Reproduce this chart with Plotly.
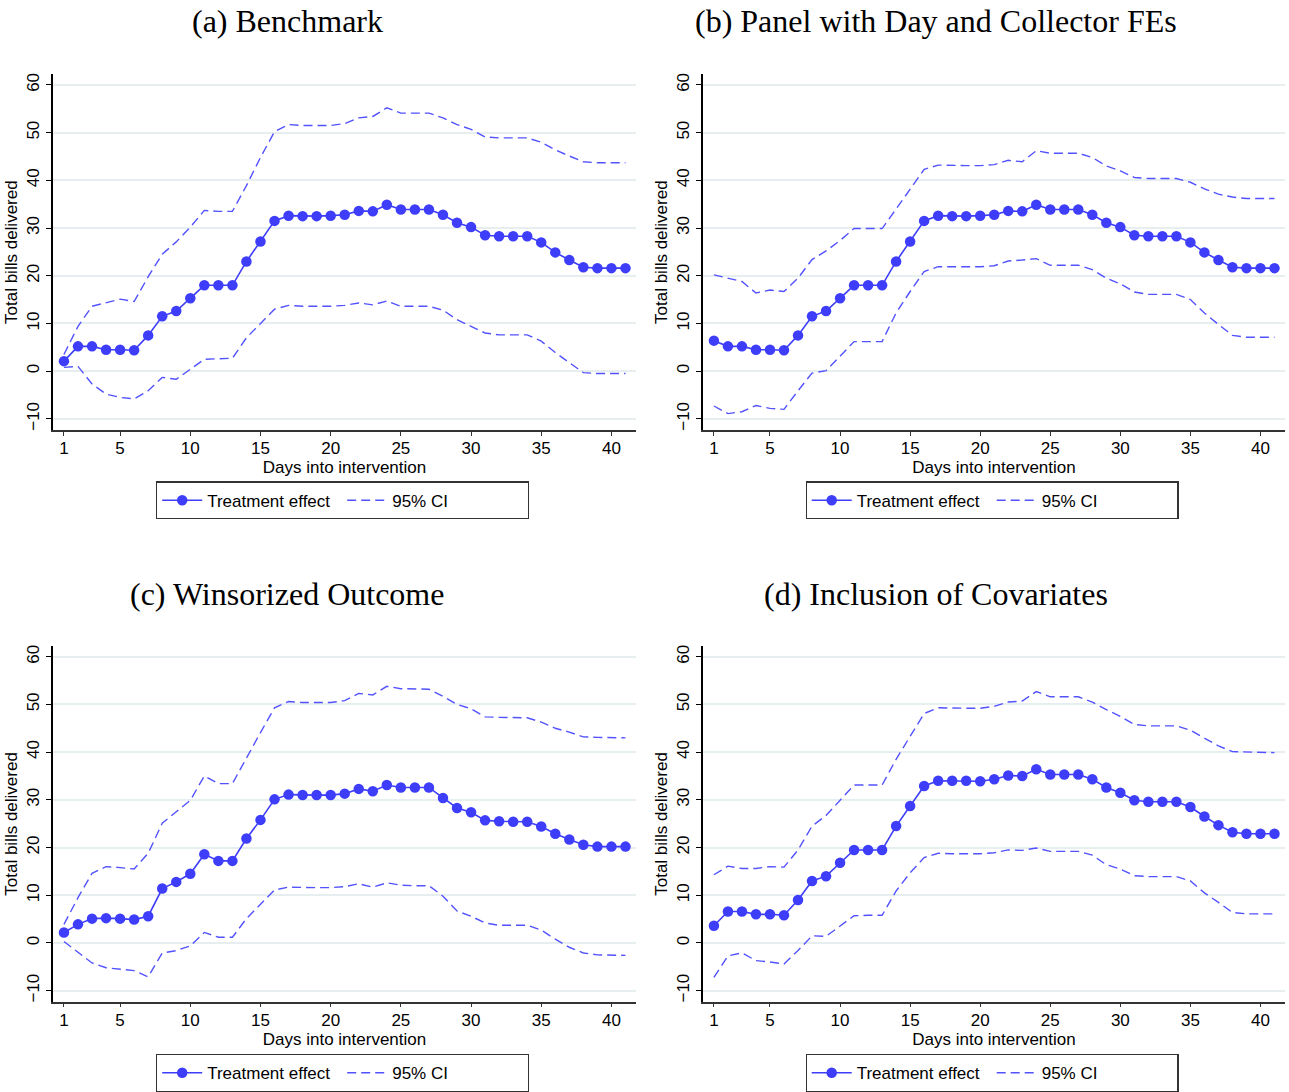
import plotly.graph_objects as go

days = list(range(1, 42))

# Panel (a) Benchmark
a_est = [2.1, 5.2, 5.2, 4.5, 4.5, 4.4, 7.5, 11.5, 12.6, 15.3, 18.0, 18.0, 18.0, 23.0, 27.2, 31.5, 32.6, 32.5, 32.5, 32.6,
         32.8, 33.6, 33.5, 34.9, 33.9, 33.9, 33.9, 32.8, 31.1, 30.2, 28.5, 28.3, 28.3, 28.3, 27.0, 24.9, 23.3, 21.8, 21.6, 21.6, 21.6]
a_hi = [3.5, 9.4, 13.6, 14.4, 15.1, 14.6, 19.8, 24.5, 27.1, 30.2, 33.7, 33.5, 33.5, 38.9, 44.8, 50.2, 51.7, 51.5, 51.5, 51.5,
        51.9, 53.1, 53.4, 55.2, 54.1, 54.1, 54.1, 53.1, 51.7, 50.7, 49.1, 48.9, 48.9, 48.9, 48.0, 46.4, 45.1, 43.9, 43.7, 43.7, 43.7]
a_lo = [0.8, 1.0, -2.7, -4.8, -5.5, -5.8, -4.1, -1.3, -1.7, 0.4, 2.5, 2.6, 2.7, 7.0, 10.1, 13.0, 13.8, 13.6, 13.6, 13.6,
        13.8, 14.3, 13.9, 14.7, 13.6, 13.6, 13.6, 12.8, 10.8, 9.4, 8.0, 7.6, 7.6, 7.6, 6.3, 3.9, 1.8, -0.3, -0.5, -0.5, -0.5]

# Panel (b) Panel with Day and Collector FEs
b_est = [6.4, 5.2, 5.2, 4.5, 4.5, 4.4, 7.5, 11.5, 12.6, 15.3, 18.0, 18.0, 18.0, 23.0, 27.2, 31.5, 32.6, 32.5, 32.5, 32.6,
         32.8, 33.6, 33.5, 34.9, 33.9, 33.9, 33.9, 32.8, 31.1, 30.2, 28.5, 28.3, 28.3, 28.3, 27.0, 24.9, 23.3, 21.8, 21.6, 21.6, 21.6]
b_hi = [20.2, 19.5, 18.8, 16.4, 17.0, 16.7, 19.5, 23.4, 25.2, 27.4, 29.9, 29.9, 29.9, 34.0, 38.2, 42.3, 43.2, 43.1, 43.1, 43.1,
        43.3, 44.2, 43.9, 46.2, 45.7, 45.7, 45.7, 44.8, 43.0, 42.0, 40.6, 40.4, 40.4, 40.4, 39.6, 38.2, 37.1, 36.5, 36.2, 36.2, 36.2]
b_lo = [-7.3, -8.9, -8.5, -7.2, -7.8, -8.0, -4.1, -0.4, 0.1, 3.2, 6.2, 6.2, 6.2, 12.2, 16.7, 20.9, 21.9, 21.9, 21.9, 21.9,
        22.1, 23.1, 23.3, 23.6, 22.2, 22.2, 22.2, 21.3, 19.5, 18.3, 16.6, 16.1, 16.1, 16.1, 15.0, 12.2, 9.8, 7.5, 7.1, 7.1, 7.1]

# Panel (c) Winsorized Outcome
c_est = [2.2, 3.9, 5.1, 5.2, 5.1, 4.9, 5.6, 11.4, 12.8, 14.5, 18.6, 17.2, 17.2, 21.9, 25.8, 30.1, 31.1, 31.0, 31.0, 31.0,
         31.3, 32.3, 31.8, 33.1, 32.6, 32.6, 32.6, 30.4, 28.3, 27.4, 25.7, 25.5, 25.4, 25.4, 24.4, 22.9, 21.7, 20.6, 20.2, 20.2, 20.2]
c_hi = [3.9, 9.5, 14.6, 16.0, 15.8, 15.5, 18.8, 25.1, 27.5, 29.9, 35.0, 33.4, 33.4, 38.9, 44.1, 49.3, 50.6, 50.4, 50.4, 50.4,
        50.8, 52.3, 52.0, 53.8, 53.3, 53.2, 53.2, 51.7, 50.0, 49.1, 47.4, 47.3, 47.2, 47.2, 46.3, 45.0, 44.2, 43.2, 43.1, 43.0, 43.0]
c_lo = [0.3, -1.9, -4.2, -5.2, -5.5, -5.8, -7.1, -2.1, -1.6, -0.6, 2.2, 1.2, 1.2, 5.1, 8.1, 11.1, 11.7, 11.6, 11.6, 11.6,
        11.8, 12.4, 11.7, 12.6, 12.1, 12.0, 12.0, 9.8, 6.7, 5.6, 4.2, 3.7, 3.7, 3.7, 2.7, 0.8, -0.9, -2.1, -2.5, -2.6, -2.6]

# Panel (d) Inclusion of Covariates
d_est = [3.6, 6.6, 6.6, 6.0, 6.0, 5.8, 9.0, 13.0, 14.0, 16.8, 19.5, 19.5, 19.5, 24.5, 28.7, 32.9, 34.0, 34.0, 34.0, 33.9,
         34.3, 35.1, 35.0, 36.4, 35.3, 35.3, 35.3, 34.3, 32.6, 31.5, 29.9, 29.6, 29.6, 29.6, 28.5, 26.5, 24.7, 23.2, 22.9, 22.9, 22.9]
d_hi = [14.3, 16.1, 15.6, 15.6, 16.0, 15.9, 19.5, 24.5, 26.7, 29.9, 33.1, 33.1, 33.1, 38.5, 43.4, 48.1, 49.3, 49.2, 49.2, 49.2,
        49.6, 50.5, 50.7, 52.7, 51.6, 51.6, 51.6, 50.5, 48.9, 47.5, 45.8, 45.5, 45.5, 45.5, 44.6, 42.9, 41.3, 40.1, 40.0, 39.9, 39.9]
d_lo = [-7.2, -2.7, -2.1, -3.7, -4.0, -4.4, -1.6, 1.5, 1.4, 3.6, 5.7, 5.8, 5.8, 10.9, 14.7, 17.9, 18.8, 18.7, 18.7, 18.7,
        18.9, 19.5, 19.4, 19.9, 19.2, 19.2, 19.2, 18.4, 16.4, 15.5, 14.1, 13.9, 13.9, 13.9, 13.0, 10.5, 8.5, 6.4, 6.1, 6.1, 6.1]

titles = ["(a) Benchmark", "(b) Panel with Day and Collector FEs",
          "(c) Winsorized Outcome", "(d) Inclusion of Covariates"]
panels = [(a_est, a_hi, a_lo), (b_est, b_hi, b_lo), (c_est, c_hi, c_lo), (d_est, d_hi, d_lo)]

x_ticks = [1, 5, 10, 15, 20, 25, 30, 35, 40]
y_ticks = [-10, 0, 10, 20, 30, 40, 50, 60]

W, H = 1289, 1092
BLUE = "#3d3dfa"
CI_BLUE = "#5252ff"

# pixel layout of plot areas (left, right, top, bottom)
boxes = [(53, 636, 73, 431), (703, 1285, 73, 431), (53, 636, 649, 1007), (703, 1285, 649, 1007)]
title_x = [287, 936, 287, 936]
title_y = [19, 19, 596, 596]
legend_top = [485, 485, 1062, 1062]

fig = go.Figure()
layout = dict(width=W, height=H, margin=dict(l=0, r=0, t=0, b=0),
              paper_bgcolor="white", plot_bgcolor="white",
              font=dict(family="Liberation Sans, Arial, sans-serif", size=17, color="black"))
annotations = []

for i, (est, hi, lo) in enumerate(panels):
    n = i + 1
    xa = "x" if n == 1 else f"x{n}"
    ya = "y" if n == 1 else f"y{n}"
    lg = "legend" if n == 1 else f"legend{n}"
    fig.add_trace(go.Scatter(x=days, y=est, mode="lines+markers", name="Treatment effect",
                             line=dict(color=BLUE, width=1.6), marker=dict(color=BLUE, size=10.5),
                             xaxis=xa, yaxis=ya, legend=lg))
    fig.add_trace(go.Scatter(x=days, y=hi, mode="lines", name="95% CI",
                             line=dict(color=CI_BLUE, width=1.4, dash="9px,5px"),
                             xaxis=xa, yaxis=ya, legend=lg))
    fig.add_trace(go.Scatter(x=days, y=lo, mode="lines", name="95% CI", showlegend=False,
                             line=dict(color=CI_BLUE, width=1.4, dash="9px,5px"),
                             xaxis=xa, yaxis=ya, legend=lg))
    l, r, t, b = boxes[i]
    xkey = "xaxis" if n == 1 else f"xaxis{n}"
    ykey = "yaxis" if n == 1 else f"yaxis{n}"
    layout[xkey] = dict(domain=[l / W, r / W], anchor=ya, range=[0.22, 41.75],
                        tickmode="array", tickvals=x_ticks, ticks="outside", ticklen=4,
                        tickcolor="#333", showline=True, linecolor="#333", linewidth=1.5,
                        showgrid=False, zeroline=False, ticklabelstandoff=-2,
                        title=dict(text="Days into intervention", standoff=0, font=dict(size=17)),
                        tickfont=dict(size=17))
    layout[ykey] = dict(domain=[1 - b / H, 1 - t / H], anchor=xa, range=[-12.3, 62.2],
                        tickmode="array", tickvals=y_ticks, ticks="outside", ticklen=5,
                        tickcolor="black", showline=True, linecolor="black", linewidth=1.5,
                        showgrid=True, gridcolor="#e6eef0", gridwidth=1.5, zeroline=False,
                        tickangle=-90, tickfont=dict(size=17),
                        title=dict(text="Total bills delivered", standoff=2, font=dict(size=17)))
    layout[lg] = dict(orientation="h", x=((l + r) / 2 - 2) / W, xanchor="center",
                      y=1 - (legend_top[i] - 2) / H, yanchor="top",
                      bordercolor="#333", borderwidth=1.2, bgcolor="white",
                      font=dict(size=17), itemwidth=40, entrywidth=130, tracegroupgap=0)
    annotations.append(dict(text=titles[i], x=title_x[i] / W, y=1 - title_y[i] / H,
                            xref="paper", yref="paper", xanchor="center", yanchor="middle",
                            showarrow=False,
                            font=dict(family="Liberation Serif, Times New Roman, serif", size=32)))

layout["annotations"] = annotations
fig.update_layout(**layout)
fig.write_html("out.html")
